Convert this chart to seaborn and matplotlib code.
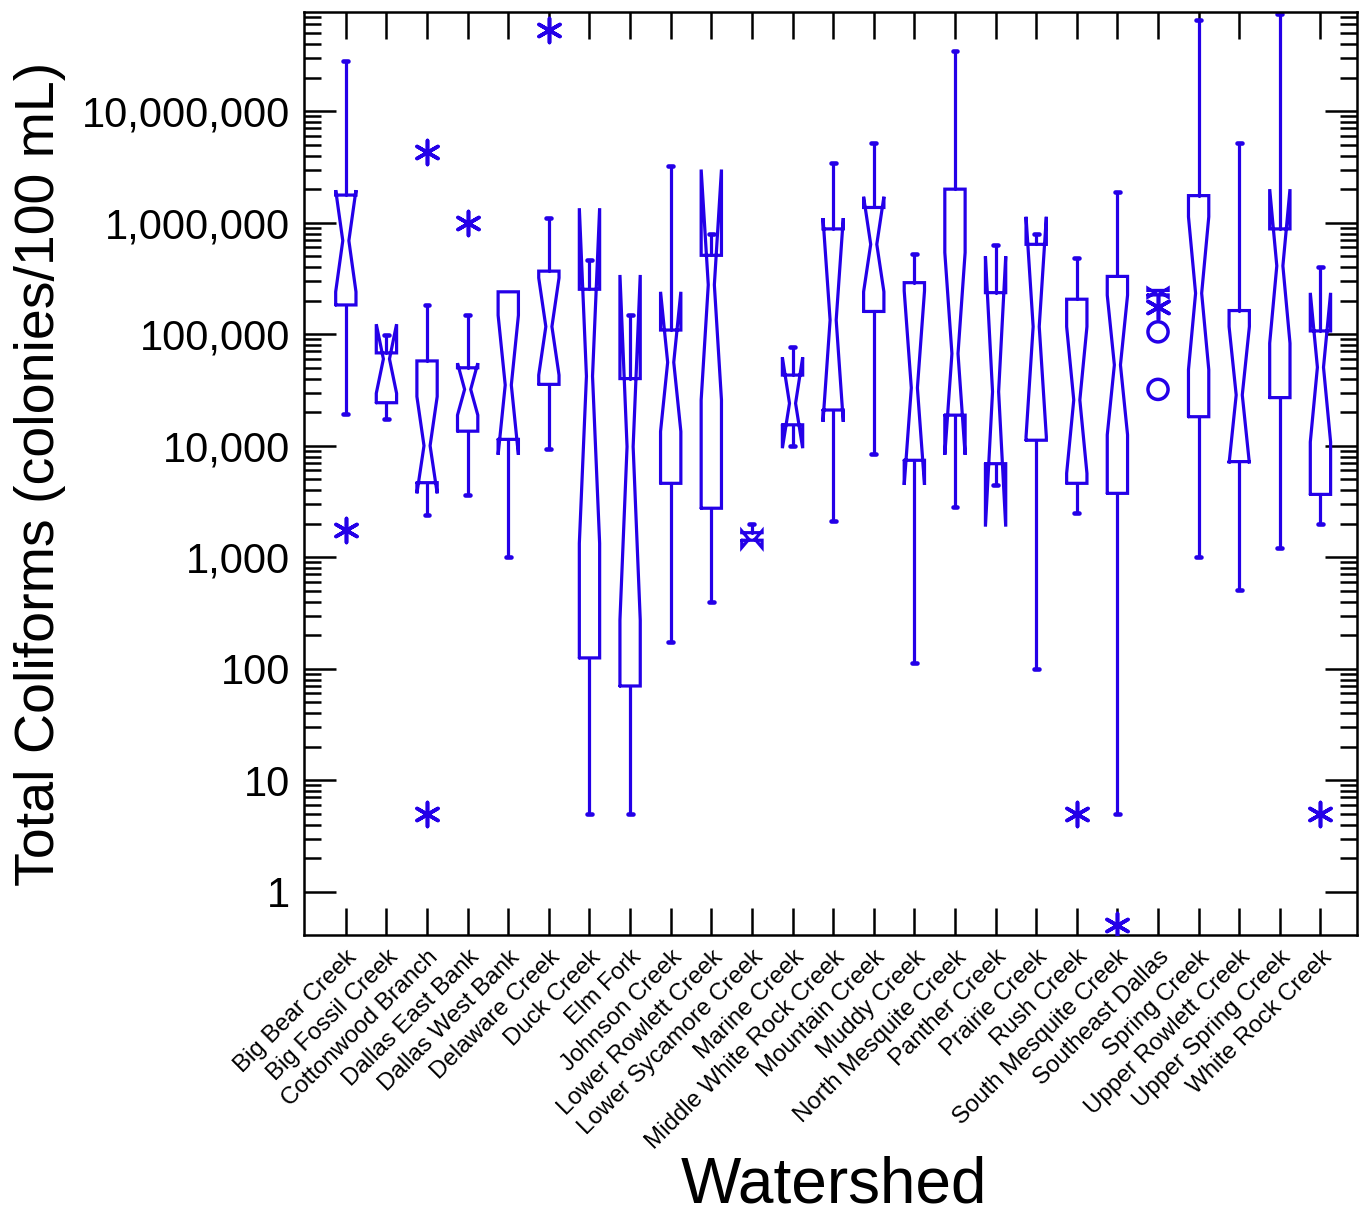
import matplotlib
matplotlib.use("Agg")
import matplotlib.pyplot as plt
import matplotlib.transforms as mtransforms
from matplotlib.ticker import FixedLocator, FixedFormatter, NullFormatter
import pandas as pd
import seaborn as sns

# ---- summary statistics per watershed (colonies / 100 mL) ----
watersheds = [
    "Big Bear Creek", "Big Fossil Creek", "Cottonwood Branch", "Dallas East Bank",
    "Dallas West Bank", "Delaware Creek", "Duck Creek", "Elm Fork", "Johnson Creek",
    "Lower Rowlett Creek", "Lower Sycamore Creek", "Marine Creek",
    "Middle White Rock Creek", "Mountain Creek", "Muddy Creek",
    "North Mesquite Creek", "Panther Creek", "Prairie Creek", "Rush Creek",
    "South Mesquite Creek", "Southeast Dallas", "Spring Creek",
    "Upper Rowlett Creek", "Upper Spring Creek", "White Rock Creek",
]
whisker_low = [1.92e4, 1.75e4, 2.4e3, 3.6e3, 1.0e3, 9.3e3, 5, 5, 175, 400,
               1.42e3, 9.9e3, 2.1e3, 8.4e3, 112, 2.8e3, 4.45e3, 100, 2.5e3,
               5, 2.25e5, 1.0e3, 507, 1.2e3, 2.0e3]
lower_hinge = [1.83e5, 2.43e4, 4.66e3, 1.35e4, 1.14e4, 3.55e4, 125, 70, 4.6e3, 2.75e3,
               1.42e3, 1.54e4, 2.09e4, 1.6e5, 7.4e3, 1.88e4, 6.9e3, 1.12e4, 4.6e3,
               3.74e3, 2.25e5, 1.82e4, 7.2e3, 2.7e4, 3.66e3]
median = [6.9e5, 6.0e4, 1.0e4, 3.2e4, 3.5e4, 1.17e5, 4.2e4, 9.8e3, 5.6e4, 2.77e5,
          1.45e3, 2.4e4, 1.34e5, 6.4e5, 3.3e4, 6.7e4, 3.05e4, 1.17e5, 2.57e4,
          5.3e4, 2.35e5, 2.33e5, 2.85e4, 4.1e5, 5.05e4]
upper_hinge = [1.77e6, 6.8e4, 5.76e4, 5.0e4, 2.4e5, 3.68e5, 2.53e5, 4.0e4, 1.09e5, 5.1e5,
               1.66e3, 4.3e4, 8.8e5, 1.37e6, 2.9e5, 2.0e6, 2.36e5, 6.4e5, 2.06e5,
               3.3e5, 2.47e5, 1.75e6, 1.63e5, 8.8e5, 1.07e5]
whisker_high = [2.8e7, 9.8e4, 1.83e5, 1.5e5, 2.4e5, 1.1e6, 4.6e5, 1.5e5, 3.2e6, 8.0e5,
                2.0e3, 7.7e4, 3.4e6, 5.2e6, 5.2e5, 3.5e7, 6.3e5, 8.0e5, 4.8e5,
                1.9e6, 2.47e5, 6.6e7, 5.2e6, 7.5e7, 4.0e5]
notch_low = [2.4e5, 2.95e4, 3.74e3, 1.88e4, 8.3e3, 4.3e4, 1.33e3, 273, 1.34e4, 2.57e4,
             1.22e3, 9.5e3, 1.64e4, 2.4e5, 4.45e3, 8.3e3, 1.88e3, 1.2e4, 5.65e3,
             1.25e4, 2.15e5, 4.8e4, 6.95e3, 8.3e4, 1.08e4]
notch_high = [1.96e6, 1.23e5, 2.76e4, 5.5e4, 1.48e5, 3.2e5, 1.35e6, 3.4e5, 2.4e5, 3.0e6,
              1.72e3, 6.2e4, 1.1e6, 1.71e6, 2.45e5, 5.4e5, 5.0e5, 1.13e6, 1.17e5,
              2.24e5, 2.58e5, 1.13e6, 1.17e5, 2.0e6, 2.35e5]

# far outside values (asterisks) and outside values (open circles)
far_site = ["Big Bear Creek", "Cottonwood Branch", "Cottonwood Branch",
            "Dallas East Bank", "Delaware Creek", "Rush Creek",
            "South Mesquite Creek", "Southeast Dallas", "White Rock Creek"]
far_value = [1.75e3, 4.3e6, 5, 1.0e6, 5.3e7, 5, 0.5, 1.77e5, 5]
near_site = ["Southeast Dallas", "Southeast Dallas"]
near_value = [1.05e5, 3.2e4]

ytick_values = [1, 10, 100, 1e3, 1e4, 1e5, 1e6, 1e7]
ytick_labels = ["1", "10", "100", "1,000", "10,000", "100,000",
                "1,000,000", "10,000,000"]

# ---- style ----
sns.set_theme(style="ticks")
plt.rcParams["font.family"] = ["Liberation Sans", "DejaVu Sans"]
plt.rcParams["axes.linewidth"] = 1.8
for key in ("text.color", "axes.labelcolor", "xtick.color", "ytick.color",
            "axes.edgecolor"):
    plt.rcParams[key] = "black"

BLUE = "#2400E8"
LW = 2.3
BOX_W = 0.50
CAP_W = 0.06

fig = plt.figure(figsize=(13.59, 12.17), dpi=100)
ax = fig.add_axes([304 / 1359, 1 - 935 / 1217, 1053 / 1359, 923 / 1217])


def notched_box(ax, x, lo, b1, m, b3, hi, c1, c3):
    """Draw a SYSTAT-style notched box for one group at position x."""
    h = BOX_W / 2
    n = h * 0.3
    xs = [x - h, x + h, x + h, x + n, x + h, x + h, x - h, x - h, x - n, x - h, x - h]
    ys = [b1, b1, c1, m, c3, b3, b3, c3, m, c1, b1]
    ax.plot(xs, ys, color=BLUE, lw=LW, solid_joinstyle="miter")
    if hi > b3:
        ax.plot([x, x], [b3, hi], color=BLUE, lw=LW)
        ax.plot([x - CAP_W, x + CAP_W], [hi, hi], color=BLUE, lw=LW + 1,
                solid_capstyle="round")
    if lo < b1:
        ax.plot([x, x], [b1, lo], color=BLUE, lw=LW)
        ax.plot([x - CAP_W, x + CAP_W], [lo, lo], color=BLUE, lw=LW + 1,
                solid_capstyle="round")


for i in range(len(watersheds)):
    notched_box(ax, i, whisker_low[i], lower_hinge[i], median[i], upper_hinge[i],
                whisker_high[i], notch_low[i], notch_high[i])

pos = {name: i for i, name in enumerate(watersheds)}
far_df = pd.DataFrame({"x": [pos[s] for s in far_site], "value": far_value})
near_df = pd.DataFrame({"x": [pos[s] for s in near_site], "value": near_value})

sns.scatterplot(data=far_df, x="x", y="value", marker=(6, 2, 0), s=300,
                color=BLUE, linewidth=2.6, ax=ax, legend=False, zorder=3)
sns.scatterplot(data=near_df, x="x", y="value", marker="o", s=210,
                color=BLUE, facecolor="none", edgecolor=BLUE, linewidth=2.5,
                ax=ax, legend=False, zorder=3)

# ---- axes ----
ax.set_yscale("log")
ax.set_ylim(0.409, 7.76e7)
ax.set_xlim(-1.03, 24.9)

ax.yaxis.set_major_locator(FixedLocator(ytick_values))
ax.yaxis.set_major_formatter(FixedFormatter(ytick_labels))
minor = [k * 10 ** e for e in range(0, 8) for k in range(2, 10)]
ax.yaxis.set_minor_locator(FixedLocator(minor))
ax.yaxis.set_minor_formatter(NullFormatter())

ax.set_xticks(range(len(watersheds)))
ax.set_xticklabels(watersheds, rotation=45, ha="right", va="top",
                   rotation_mode="anchor", fontsize=17.3)
shift = mtransforms.ScaledTranslation(-3 / 100, 0, fig.dpi_scale_trans)
for lbl in ax.get_xticklabels():
    lbl.set_transform(lbl.get_transform() + shift)

ax.tick_params(axis="y", which="major", direction="in", length=23, width=1.8,
               left=True, right=True, labelsize=30, pad=10, colors="black")
ax.tick_params(axis="y", which="minor", direction="in", length=12, width=1.8,
               left=True, right=True)
ax.tick_params(axis="x", which="major", direction="in", length=19.5, width=1.8,
               bottom=True, top=True, pad=8, colors="black")
ax.tick_params(axis="x", which="minor", bottom=False, top=False)

for sp in ax.spines.values():
    sp.set_visible(True)
    sp.set_linewidth(1.8)
    sp.set_color("black")

ax.set_xlabel("")
ax.set_ylabel("")

fig.text(40 / 1359, 1 - 473.5 / 1217, "Total Coliforms (colonies/100 mL)",
         rotation=90, ha="center", va="center", fontsize=40, color="black")
fig.text(834 / 1359, 0.001, "Watershed", ha="center",
         va="bottom", fontsize=46, color="black")

fig.savefig("out.png", dpi=100)
